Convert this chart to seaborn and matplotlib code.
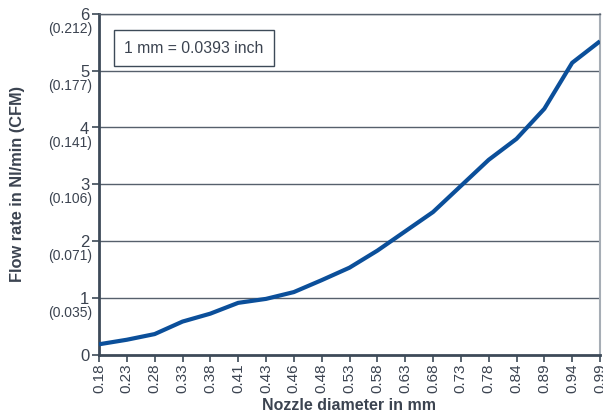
import matplotlib
matplotlib.use("Agg")
import matplotlib.pyplot as plt
import matplotlib.transforms as mtransforms
import seaborn as sns
import pandas as pd

diameters = ["0.18", "0.23", "0.28", "0.33", "0.38", "0.41", "0.43", "0.46", "0.48",
             "0.53", "0.58", "0.63", "0.68", "0.73", "0.78", "0.84", "0.89", "0.94", "0.99"]
flow_nl = [0.18, 0.26, 0.36, 0.58, 0.72, 0.91, 0.98, 1.10, 1.31,
           1.53, 1.83, 2.17, 2.51, 2.97, 3.43, 3.80, 4.33, 5.14, 5.52]
y_ticks = [0, 1, 2, 3, 4, 5, 6]
cfm_labels = ["", "(0.035)", "(0.071)", "(0.106)", "(0.141)", "(0.177)", "(0.212)"]

sns.set_theme(style="white")
plt.rcParams["font.family"] = ["Liberation Sans", "DejaVu Sans"]

text_col = "#3b4350"
axis_col = "#3d4a58"
grid_col = "#56606c"

fig = plt.figure(figsize=(6.03, 4.15), dpi=100)
ax = fig.add_axes([99 / 603, 1 - 354.5 / 415, (600 - 99) / 603, (354.5 - 14) / 415])

df = pd.DataFrame({"d": diameters, "flow": flow_nl})
sns.lineplot(data=df, x="d", y="flow", sort=False, ax=ax, color="#0b4f9a", linewidth=3.0,
             solid_capstyle="butt", solid_joinstyle="round", zorder=5)

ax.set_xlim(0, len(diameters) - 1)
ax.set_ylim(0, 6)
ax.set_xticks(range(len(diameters)))
ax.set_xticklabels(diameters, rotation=90, fontsize=11, color=text_col)
ax.set_yticks(y_ticks)
ax.set_yticklabels([str(v) for v in y_ticks], fontsize=12, color=text_col)
for lbl in ax.get_yticklabels():
    lbl.set_verticalalignment("center_baseline")

for v in y_ticks[1:]:
    ax.axhline(v, color=grid_col, linewidth=1.0, zorder=1)

trans = mtransforms.blended_transform_factory(ax.transAxes, ax.transData)
offset = mtransforms.ScaledTranslation(-7 / 100, -15 / 100, fig.dpi_scale_trans)
for v, lab in zip(y_ticks, cfm_labels):
    if lab:
        ax.text(0, v, lab, transform=trans + offset, ha="right", va="center",
                fontsize=10, color=text_col)

ax.tick_params(axis="x", direction="out", length=5, width=1.2, color=axis_col, pad=1.5,
               bottom=True)
ax.tick_params(axis="y", direction="out", length=5, width=1.2, color=axis_col, pad=2,
               left=True)

for side in ["left", "bottom"]:
    ax.spines[side].set_color(axis_col)
    ax.spines[side].set_linewidth(2.0)
ax.spines["top"].set_color(grid_col)
ax.spines["top"].set_linewidth(1.0)
ax.spines["right"].set_color("#a6adb5")
ax.spines["right"].set_linewidth(1.5)

ax.set_xlabel("Nozzle diameter in mm", fontsize=11.5, fontweight="bold", color=text_col)
ax.xaxis.set_label_coords(0.5, -43.5 / 340.5)
ax.set_ylabel("Flow rate in Nl/min (CFM)", fontsize=11.8, fontweight="bold", color=text_col)
ax.yaxis.set_label_coords(-74 / 501, 0.5)

ax.text(0.05, 0.90, "1 mm = 0.0393 inch", transform=ax.transAxes, fontsize=11.3,
        color=text_col, ha="left", va="center", zorder=6,
        bbox=dict(boxstyle="square,pad=0.65", facecolor="white", edgecolor=axis_col,
                  linewidth=1.0))

fig.savefig("out.png", dpi=100)
